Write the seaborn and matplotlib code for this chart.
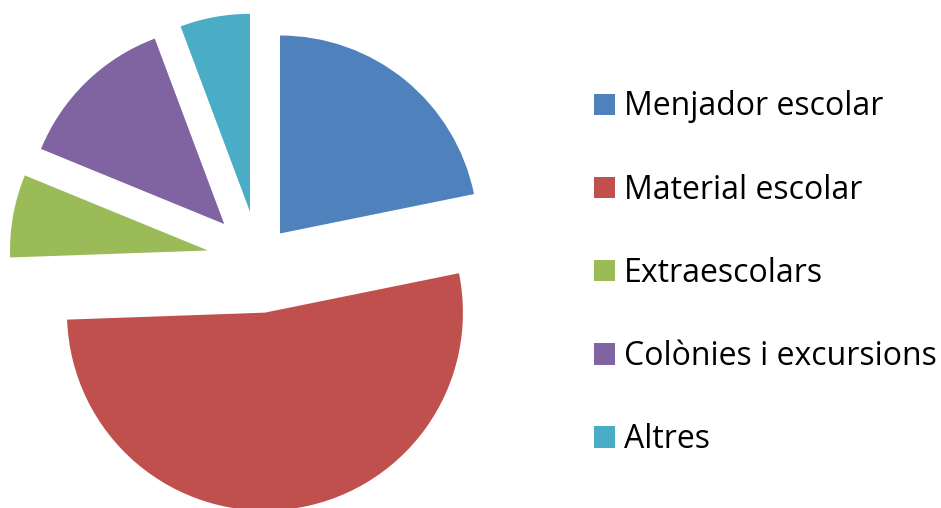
import matplotlib
matplotlib.use("Agg")
import matplotlib.pyplot as plt
import seaborn as sns

# dades del gràfic
categories = ["Menjador escolar", "Material escolar", "Extraescolars",
              "Colònies i excursions", "Altres"]
valors = [21.8, 52.6, 6.75, 13.1, 5.7]
colors = ["#4F81BD", "#C0504D", "#9BBB59", "#8064A2", "#4BACC6"]
separacio = [0.17, 0.27, 0.26, 0.25, 0.245]

sns.set_style("white")
plt.rcParams["font.family"] = ["Open Sans", "DejaVu Sans"]
plt.rcParams["text.color"] = "black"
paleta = sns.color_palette(colors)

fig = plt.figure(figsize=(9.41, 5.08), dpi=100)
ax = fig.add_axes([0, 0, 1, 1])
wedges, _ = ax.pie(valors, colors=paleta, explode=separacio, startangle=90,
                   counterclock=False, radius=1,
                   wedgeprops={"linewidth": 0})
ax.set_xlim(-1.306, 3.446)
ax.set_ylim(-1.255, 1.311)
ax.set_aspect("equal")
ax.axis("off")

fig.legend(wedges, categories, loc="center left", bbox_to_anchor=(0.631, 0.462),
           frameon=False, fontsize=23, handlelength=0.66, handleheight=0.66,
           handletextpad=0.28, labelspacing=1.57, borderpad=0, borderaxespad=0)

plt.savefig("out.png", dpi=100)
plt.close()
